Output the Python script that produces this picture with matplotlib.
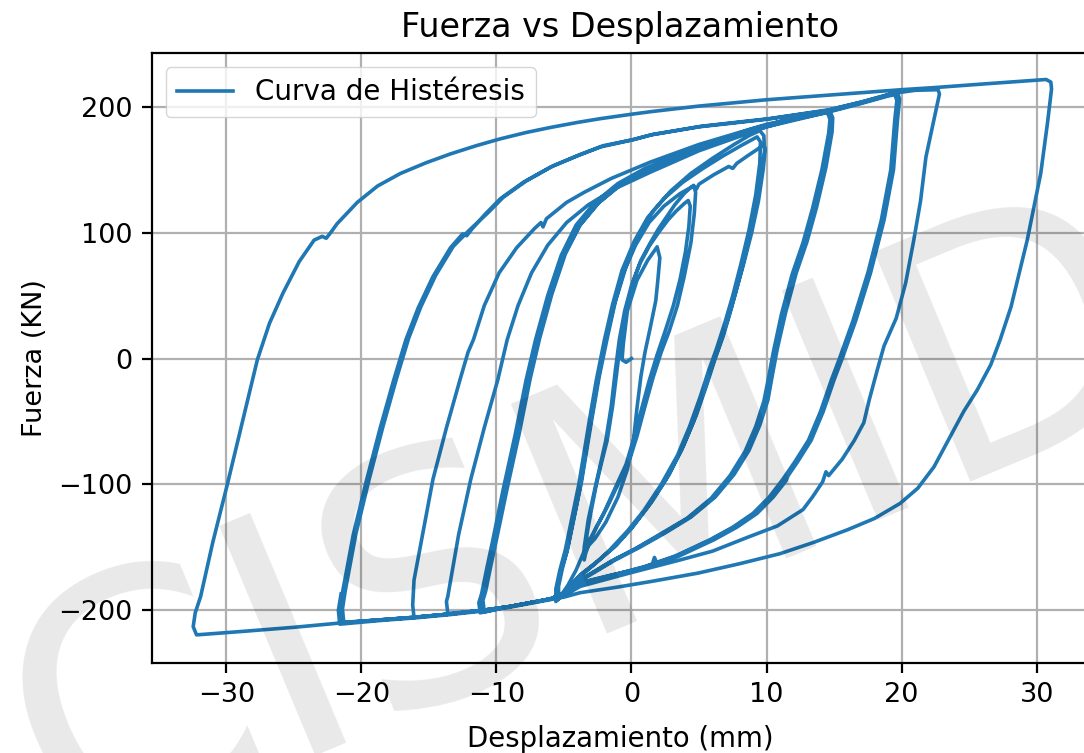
import matplotlib
matplotlib.use("Agg")
import matplotlib.pyplot as plt

# ---------------- data (displacement mm, force kN), branch by branch ----------------
start_up = [(0.0, 0.0), (-0.4, -3), (-0.7, -1), (-0.6, 12), (-0.3, 38), (0.4, 62), (1.2, 78), (1.9, 88.7)]
small_down = [(1.9, 88.7), (2.1, 80), (1.95, 62), (1.8, 46), (1.4, 25), (1.0, 5), (0.7, -14), (0.4, -40),
              (0.15, -65), (-0.3, -88), (-1.0, -110), (-1.9, -130), (-2.7, -143), (-3.3, -150)]
up5a = [(-3.3, -150), (-3.3, -140), (-3.0, -122), (-2.6, -100), (-2.2, -82), (-1.8, -65), (-1.4, -38),
        (-1.1, -12), (-0.8, 15), (-0.4, 38), (0.15, 62), (0.7, 78), (1.4, 92), (2.0, 103), (2.6, 112.5),
        (3.2, 122), (3.9, 131), (4.3, 135), (4.6, 137.5)]
down5a = [(4.6, 137.5), (4.75, 132), (4.65, 115), (4.4, 92), (3.9, 65), (3.4, 42), (2.8, 22), (2.2, 5),
          (1.6, -15), (1.0, -38), (0.4, -62), (-0.1, -79), (-1.0, -100), (-1.8, -118), (-2.6, -134),
          (-3.1, -146), (-3.4, -155), (-3.5, -160)]
up5b = [(-3.5, -160), (-3.5, -150), (-3.2, -128), (-2.7, -103), (-2.3, -84), (-1.9, -65), (-1.5, -38),
        (-1.2, -10), (-0.9, 15), (-0.5, 38), (0.0, 58), (0.6, 75), (1.3, 89), (2.0, 100), (2.7, 110),
        (3.3, 117), (3.9, 123), (4.2, 125.5)]
down5b = [(4.2, 125.5), (4.35, 121), (4.25, 105), (4.0, 85), (3.6, 63), (3.1, 42), (2.5, 22), (1.9, 3),
          (1.3, -18), (0.7, -42), (0.1, -66), (-0.4, -84), (-1.3, -105), (-2.1, -124), (-2.9, -140),
          (-3.5, -153), (-4.1, -168), (-4.7, -180), (-5.2, -188), (-5.5, -192)]
up10a = [(-5.5, -192), (-5.5, -182), (-5.2, -168), (-4.8, -154), (-4.3, -128), (-3.8, -102), (-3.4, -75),
         (-3.0, -49), (-2.5, -18), (-1.9, 14.7), (-1.3, 42), (-0.6, 68), (0.3, 90), (1.3, 108), (2.4, 121),
         (3.6, 131), (4.6, 137), (4.8, 134.5), (5.0, 138.5), (6.1, 146), (7.2, 152.5), (7.5, 151),
         (7.8, 155), (8.6, 161), (9.3, 166), (9.8, 170)]
down10a = [(9.8, 170), (9.9, 166), (9.75, 150), (9.4, 125), (8.9, 100), (8.3, 75), (7.7, 52), (7.1, 30),
           (6.5, 10), (6.0, -5), (5.4, -25), (4.6, -50), (3.7, -73), (2.5, -97), (1.2, -118), (0.0, -135),
           (-1.3, -150), (-2.6, -162), (-3.8, -172), (-4.8, -184), (-5.6, -193)]
up10b = [(-5.6, -193), (-5.6, -183), (-5.3, -168), (-4.9, -152), (-4.4, -126), (-3.9, -100), (-3.5, -74),
         (-3.1, -48), (-2.6, -17), (-2.0, 15), (-1.4, 43), (-0.7, 70), (0.2, 93), (1.2, 112), (2.4, 127),
         (3.8, 140), (5.3, 151), (6.8, 161), (8.1, 169), (9.3, 176)]
down10b = [(9.3, 176), (9.55, 172), (9.5, 155), (9.2, 130), (8.7, 102), (8.1, 75), (7.5, 50), (6.9, 28),
           (6.3, 8), (5.7, -10), (5.1, -30), (4.3, -54), (3.4, -77), (2.2, -100), (0.9, -121), (-0.3, -137),
           (-1.6, -152), (-2.8, -164), (-3.9, -174), (-4.8, -183), (-5.4, -191)]
up10c = [(-5.4, -191), (-5.4, -181), (-5.1, -166), (-4.7, -150), (-4.2, -124), (-3.7, -98), (-3.3, -72),
         (-2.9, -46), (-2.4, -15), (-1.8, 16), (-1.2, 45), (-0.4, 73), (0.5, 97), (1.6, 117), (2.9, 133),
         (4.4, 147), (6.0, 159), (7.6, 170), (8.7, 177), (9.5, 181)]
down10c = [(9.5, 181), (9.8, 177), (9.85, 165), (9.6, 145), (9.2, 120), (8.7, 95), (8.1, 68), (7.4, 40),
           (6.8, 18), (6.2, 0), (5.6, -20), (4.8, -45), (3.9, -68), (2.8, -92), (1.5, -114), (0.2, -132),
           (-1.1, -148), (-2.4, -160), (-3.8, -172), (-5.0, -186), (-6.0, -191), (-7.5, -194), (-9.0, -197),
           (-11.0, -201.5)]
up15a = [(-11.0, -201.5), (-11.1, -193), (-10.9, -186), (-10.5, -165), (-10.1, -145), (-9.3, -104),
         (-8.4, -60), (-7.6, -17), (-6.9, 15), (-6.0, 50), (-5.0, 82), (-3.9, 105), (-2.5, 123), (-0.8, 138),
         (1.2, 150), (3.5, 160), (6.0, 170), (9.0, 181), (12.0, 190), (14.6, 196)]
down15a = [(14.6, 196), (14.8, 191), (14.75, 180), (14.3, 152), (13.6, 120), (12.9, 93), (12.1, 68),
           (11.3, 36), (10.7, 8), (10.3, -15), (10.0, -33), (9.4, -53), (8.6, -73), (7.5, -92), (6.1, -110),
           (4.3, -126), (2.4, -138.5), (0.5, -150), (-1.3, -160), (-3.8, -176), (-5.0, -187), (-6.0, -191),
           (-7.5, -194), (-9.0, -197), (-11.2, -202)]
up15b = [(-11.2, -202), (-11.3, -194), (-11.1, -187), (-10.7, -166), (-10.3, -146), (-9.5, -104),
         (-8.6, -60), (-7.8, -17), (-7.1, 15), (-6.2, 50), (-5.2, 82), (-4.1, 106), (-2.7, 124), (-1.0, 139),
         (1.0, 151), (3.3, 161), (5.8, 171), (8.8, 182), (11.8, 190.5), (14.7, 196.5)]
down15b = [(14.7, 196.5), (14.9, 191), (14.85, 180), (14.4, 152), (13.7, 120), (13.0, 93), (12.2, 68),
           (11.4, 36), (10.8, 8), (10.4, -15), (10.1, -33), (9.5, -53), (8.7, -73), (7.6, -92), (6.2, -110),
           (4.4, -126), (2.5, -138.5), (0.6, -150), (-1.2, -160), (-3.7, -176), (-5.0, -187), (-6.0, -191),
           (-7.5, -194), (-9.0, -197), (-10.9, -201)]
up15c = [(-10.9, -201), (-11.0, -192), (-10.8, -185), (-10.4, -164), (-10.0, -144), (-9.2, -103),
         (-8.3, -59), (-7.5, -16), (-6.8, 16), (-5.9, 51), (-4.9, 83), (-3.8, 106), (-2.4, 124), (-0.7, 139),
         (1.3, 151), (3.6, 161), (6.1, 171), (9.1, 182), (12.1, 190), (14.5, 195.5)]
down15c = [(14.5, 195.5), (14.7, 190), (14.6, 179), (14.1, 150), (13.4, 119), (12.7, 92), (11.9, 67),
           (11.1, 35), (10.5, 5), (10.1, -18), (9.8, -34), (9.2, -54), (8.4, -74), (7.3, -93), (5.9, -111),
           (4.1, -127), (2.2, -139), (0.3, -151), (-1.5, -161), (-3.8, -176), (-5.0, -187), (-6.0, -191),
           (-7.5, -194), (-9.0, -197), (-11.0, -200), (-13.5, -203), (-16.1, -205.5)]
up16 = [(-16.1, -205.5), (-16.2, -196), (-16.1, -176), (-15.4, -136), (-14.7, -96), (-13.7, -55),
        (-12.7, -17), (-12.1, 5), (-11.7, 15), (-10.9, 42), (-9.8, 68), (-8.5, 88), (-7.2, 103), (-6.7, 108),
        (-6.55, 104.5), (-6.3, 111), (-4.8, 124), (-3.5, 132), (-1.5, 143), (1.4, 156), (5.0, 170),
        (10.0, 186), (14.5, 196), (17.0, 203), (19.0, 209), (19.7, 211)]
down20a = [(19.7, 211), (19.85, 206), (19.7, 190), (19.4, 150), (18.7, 110), (17.7, 68), (16.6, 30),
           (15.6, 0), (15.0, -17), (14.2, -42), (13.3, -65), (12.3, -82), (11.6, -93), (11.45, -97),
           (10.5, -110), (9.3, -123), (7.8, -134), (6.1, -144), (3.5, -157), (1.9, -163), (1.7, -158),
           (1.5, -165), (-1.5, -172), (-3.8, -178), (-5.0, -187), (-6.0, -191), (-7.5, -194), (-9.0, -197),
           (-11.0, -200), (-13.6, -202.5)]
up13 = [(-13.6, -202.5), (-13.7, -193), (-13.6, -189), (-12.8, -140), (-11.9, -96), (-10.9, -55),
        (-9.9, -17), (-9.2, 15), (-8.4, 42), (-7.4, 68), (-6.2, 90), (-4.8, 108), (-3.2, 122), (-1.2, 135),
        (1.4, 148), (5.0, 165), (10.0, 184), (14.5, 195.5), (17.0, 202.5), (19.0, 208.5), (19.5, 209.5)]
down20b = [(19.5, 209.5), (19.65, 205), (19.5, 190), (19.2, 150), (18.5, 110), (17.5, 68), (16.4, 30),
           (15.4, 0), (14.8, -17), (14.0, -42), (13.1, -65), (12.1, -82), (11.2, -96), (10.2, -110),
           (9.0, -123), (7.5, -134), (5.8, -144), (3.2, -157), (0.9, -165.5), (-1.7, -173), (-3.8, -179),
           (-5.0, -187), (-6.0, -191), (-7.5, -194), (-9.0, -197), (-11.0, -200), (-13.5, -203),
           (-16.0, -205.5), (-18.5, -207.5), (-21.5, -210)]
up21a = [(-21.5, -210), (-21.6, -200), (-21.4, -186), (-20.6, -140), (-19.6, -96), (-18.6, -55),
         (-17.6, -17), (-16.7, 15), (-15.8, 40), (-14.7, 65), (-13.4, 88), (-12.5, 99), (-12.2, 97.5),
         (-11.8, 103), (-10.8, 115), (-9.7, 127), (-8.0, 140), (-6.0, 152), (-4.0, 161), (-2.3, 168),
         (0.0, 173.5), (1.4, 177.5), (5.0, 184), (10.0, 190), (14.5, 197), (17.0, 203.5), (19.2, 210),
         (19.6, 210.5)]
down20c = [(19.6, 210.5), (19.75, 205.5), (19.6, 190), (19.3, 150), (18.6, 110), (17.6, 68), (16.5, 30),
           (15.5, 0), (14.9, -17), (14.1, -42), (13.2, -65), (12.2, -82), (11.3, -96), (10.3, -110),
           (9.1, -123), (7.6, -134), (5.9, -144), (3.3, -157), (1.0, -165.5), (-1.6, -172.5), (-3.8, -178.5),
           (-5.0, -187), (-6.0, -191), (-7.5, -194), (-9.0, -197), (-11.0, -200), (-13.5, -203),
           (-16.0, -205.5), (-18.5, -207.5), (-21.3, -209.5)]
up21b = [(-21.3, -209.5), (-21.4, -199), (-21.2, -185), (-20.4, -139), (-19.4, -95), (-18.4, -54),
         (-17.4, -16), (-16.5, 16), (-15.6, 41), (-14.5, 66), (-13.2, 89), (-12.0, 102), (-10.6, 116),
         (-9.5, 128), (-7.8, 141), (-5.8, 153), (-3.8, 162), (-2.1, 169), (0.2, 174), (1.6, 178),
         (5.2, 184.5), (10.2, 190.5), (14.6, 197.5), (17.1, 204), (19.3, 210.5), (21.0, 213), (22.7, 213.5)]
down22 = [(22.7, 213.5), (22.8, 210), (22.6, 200), (22.3, 185), (21.8, 160), (21.4, 125), (20.9, 94),
          (20.3, 60), (19.6, 32), (18.7, 10), (18.2, -9), (17.6, -33), (17.2, -51), (16.5, -65), (15.6, -80),
          (14.6, -93), (14.4, -90), (14.15, -98), (13.4, -110), (12.7, -120), (10.8, -133), (8.6, -142),
          (6.0, -153), (3.6, -160), (0.0, -170), (-3.8, -181), (-5.0, -188.5), (-7.0, -193), (-9.0, -197),
          (-11.0, -200), (-13.5, -203), (-16.0, -205.5), (-18.5, -207.5), (-21.5, -210), (-25.0, -213.5),
          (-28.5, -216.5), (-32.2, -219.5)]
up30 = [(-32.2, -219.5), (-32.45, -213), (-32.3, -202), (-31.9, -189), (-31.0, -146), (-29.9, -99),
        (-28.8, -50), (-27.7, -1), (-26.8, 28), (-25.8, 52), (-24.6, 77), (-23.5, 94), (-22.9, 97),
        (-22.6, 95.5), (-22.2, 101), (-21.8, 107), (-20.3, 124), (-18.8, 137), (-17.1, 147), (-15.2, 155.5),
        (-13.4, 162.5), (-11.5, 169), (-9.7, 174.5), (-7.8, 179.5), (-6.0, 183.5), (-4.0, 187.5),
        (-2.3, 190.5), (0.0, 194), (1.4, 196), (5.0, 200.5), (10.0, 205.5), (15.0, 209.5), (20.0, 213.5),
        (22.6, 215.3), (26.0, 218), (30.0, 221), (30.7, 221.6)]
down30 = [(30.7, 221.6), (31.05, 219.5), (31.1, 214), (31.0, 205), (30.8, 187), (30.3, 147), (29.3, 94),
          (28.1, 41), (27.3, 15), (26.6, -5), (25.6, -25), (24.6, -42), (23.5, -64), (22.4, -86),
          (21.2, -103), (19.9, -115), (18.0, -127), (16.0, -136), (13.5, -146), (11.0, -155), (8.0, -163),
          (4.9, -170.5), (1.5, -177), (-1.0, -181.5), (-3.8, -186), (-5.0, -189.5), (-7.0, -193.5),
          (-9.0, -197.5), (-11.0, -200.5), (-13.5, -203.5), (-16.0, -206), (-18.5, -208), (-21.6, -211),
          (-21.7, -200), (-21.5, -187)]

branches = [start_up, small_down, up5a, down5a, up5b, down5b, up10a, down10a, up10b, down10b,
            up10c, down10c, up15a, down15a, up15b, down15b, up15c, down15c, up16, down20a, up13,
            down20b, up21a, down20c, up21b, down22, up30, down30]

title = "Fuerza vs Desplazamiento"
xlabel = "Desplazamiento (mm)"
ylabel = "Fuerza (KN)"
legend_label = "Curva de Histéresis"
watermark = "CISMID"

# ---------------- build path ----------------
disp, force = [], []
for br in branches:
    for i, (x, y) in enumerate(br):
        if i == 0 and disp and (disp[-1], force[-1]) == (x, y):
            continue
        disp.append(x)
        force.append(y)

# ---------------- figure ----------------
fig = plt.figure(figsize=(10.84, 7.53), dpi=100)
ax = fig.add_axes([152 / 1084, 1 - 662.7 / 753, (1088 - 152) / 1084, (662.7 - 53.3) / 753])

ax.plot(disp, force, color="#1f77b4", lw=2.6, label=legend_label, solid_joinstyle="round")
ax.set_xlim(-35.5, 33.8)
ax.set_ylim(-241.6, 242.4)
ax.set_xticks([-30, -20, -10, 0, 10, 20, 30])
ax.set_yticks([-200, -100, 0, 100, 200])

ax.grid(True, color="#b0b0b0", lw=1.6)
for s in ax.spines.values():
    s.set_linewidth(1.6)
ax.tick_params(labelsize=19.5, length=7.2, width=1.6, pad=6.9)
ax.set_title(title, fontsize=24, pad=11.5)
ax.set_xlabel(xlabel, fontsize=19.8, labelpad=12)
ax.set_ylabel(ylabel, fontsize=19.5, labelpad=7)
ax.legend(loc="upper left", fontsize=20)

fig.text(623 / 1084, 1 - 619 / 753, watermark, fontsize=245, rotation=22.7,
         rotation_mode="anchor", ha="center", va="baseline", color="black", alpha=0.09,
         family="DejaVu Sans", zorder=10)

fig.savefig("out.png", dpi=100)
